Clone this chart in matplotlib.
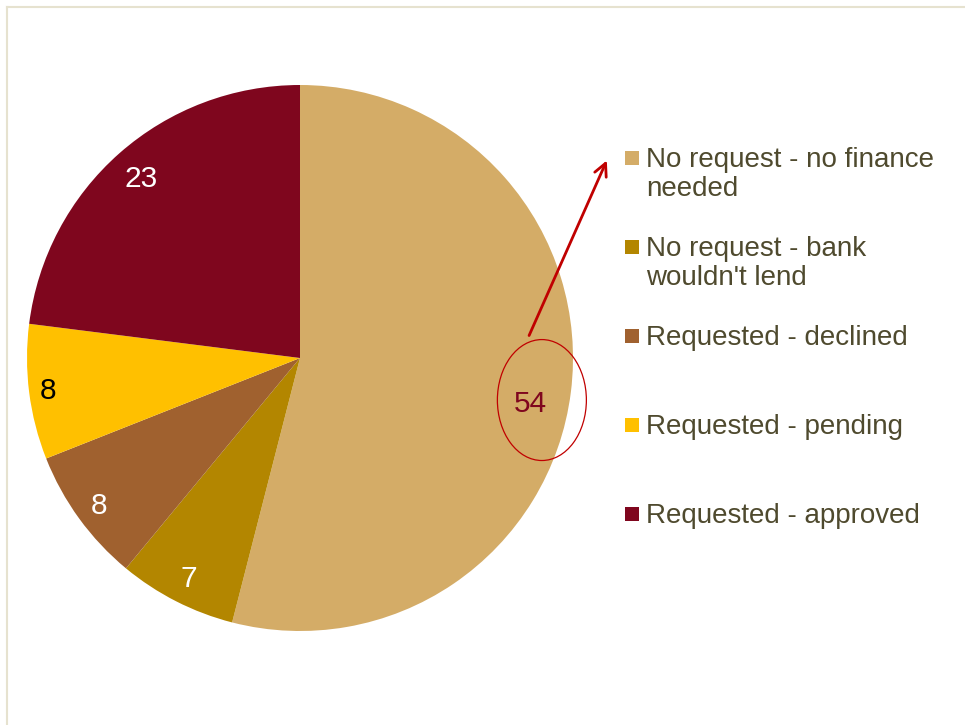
import matplotlib.pyplot as plt
import numpy as np
from matplotlib.patches import Ellipse, Rectangle
from matplotlib.lines import Line2D

plt.rcParams['font.family'] = ['Liberation Sans', 'DejaVu Sans']

categories = ["No request - no finance\nneeded",
              "No request - bank\nwouldn't lend",
              "Requested - declined",
              "Requested - pending",
              "Requested - approved"]
values = [54, 7, 8, 8, 23]
colors = ["#d4ac67", "#b38600", "#a0612f", "#ffc000", "#7f061e"]
label_colors = ["#7f061e", "white", "white", "black", "white"]
label_dist = [0.86, 0.90, 0.91, 0.93, 0.88]
label_shift = [-3.6, 0, 0, 0, 0]  # degrees

W, H = 965, 725
fig = plt.figure(figsize=(W / 100, H / 100), dpi=100)

# pie axes: centre (300, 358) px, radius 273 px
cx, cy, r = 300, 358, 273
ax = fig.add_axes([(cx - r) / W, 1 - (cy + r) / H, 2 * r / W, 2 * r / H])
wedges, _ = ax.pie(values, colors=colors, startangle=90, counterclock=False,
                   radius=1, wedgeprops=dict(linewidth=0))
ax.set_xlim(-1, 1)
ax.set_ylim(-1, 1)
ax.set_aspect('equal')
ax.axis('off')

for w, v, c, d, s in zip(wedges, values, label_colors, label_dist, label_shift):
    ang = np.deg2rad((w.theta1 + w.theta2) / 2 + s)
    ax.text(d * np.cos(ang), d * np.sin(ang) - 0.006, str(v), color=c,
            fontsize=21.5, ha='center', va='center')

# highlight around the largest share
ax.add_patch(Ellipse((0.886, -0.154), 0.326, 0.443, fill=False,
                     edgecolor='#c00000', linewidth=0.9, clip_on=False))
ax.annotate('', xy=(1.128, 0.733), xytext=(0.835, 0.073),
            arrowprops=dict(arrowstyle='->,head_length=0.9,head_width=0.45',
                            color='#c00000', lw=2), annotation_clip=False)

# legend, drawn by hand
text_color = '#4f4a2e'
rows_y = [158, 247, 336, 425, 514]
for lab, col, y in zip(categories, colors, rows_y):
    fig.patches.append(Rectangle((625 / W, 1 - (y + 7) / H), 14 / W, 14 / H,
                                 facecolor=col, edgecolor='none',
                                 transform=fig.transFigure, figure=fig))
    fig.text(646 / W, 1 - (y - 11) / H, lab, color=text_color, fontsize=20,
             ha='left', va='top', linespacing=1.16)

# slide frame (top and left edges)
frame = '#e6e2cf'
fig.add_artist(Line2D([7 / W, 1], [1 - 7 / H, 1 - 7 / H], color=frame, lw=1.5))
fig.add_artist(Line2D([7 / W, 7 / W], [0, 1 - 7 / H], color=frame, lw=1.5))

fig.savefig('out.png', dpi=100)
